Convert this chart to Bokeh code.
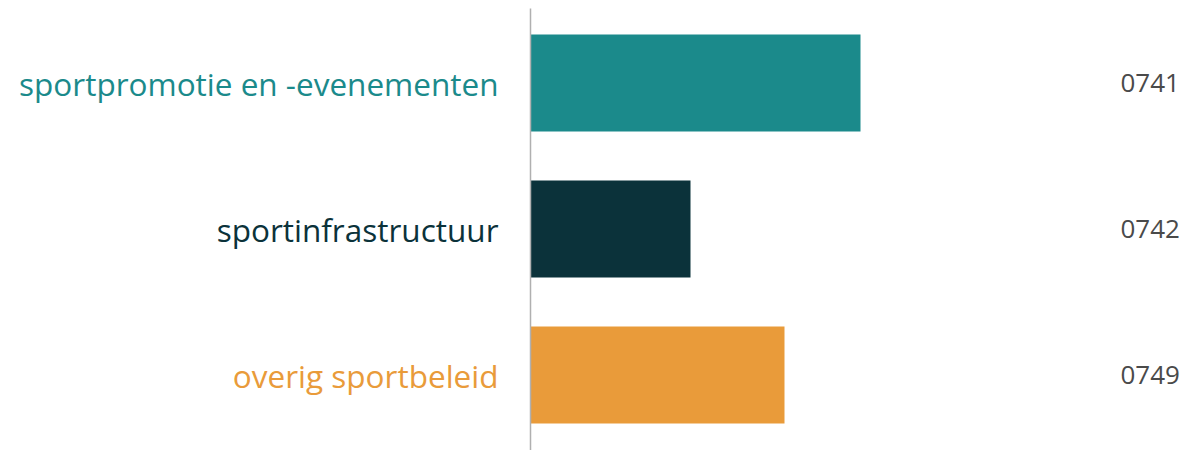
from bokeh.plotting import figure
from bokeh.models import Range1d, ColumnDataSource, Span
from bokeh.core.properties import value
from bokeh.embed import file_html
from bokeh.resources import INLINE

categories = ["sportpromotie en -evenementen", "sportinfrastructuur", "overig sportbeleid"]
codes = ["0741", "0742", "0749"]
values = [33.0, 16.0, 25.4]
colors = ["#1b8a8b", "#0b323a", "#e99b3a"]

pos = list(range(len(categories)))
src = ColumnDataSource(dict(y=pos, v=values, cat=categories, code=codes, color=colors,
                            lx=[-3.2] * len(pos), rx=[59.0] * len(pos)))

W, H = 1192, 450
X0 = 53.0  # axis offset in data units (10 px per unit)
p = figure(width=W, height=H, output_backend="svg", toolbar_location=None,
           x_range=Range1d(-X0, -X0 + W / 10.0),
           y_range=Range1d(2 + (H - 374.5) / 146, -82.5 / 146),
           min_border=0, outline_line_color=None)
p.axis.visible = False
p.grid.visible = False
p.background_fill_color = "white"
p.border_fill_color = "white"

p.hbar(y="y", left=0, right="v", height=0.664, color="color", source=src, line_color=None)
p.line(x=[0, 0], y=[2 + (H - 374.5) / 146, -74.5 / 146], line_color="#b0b0b0", line_width=1.5)

p.text(x="lx", y="y", text="cat", text_color="color", text_align="right", text_baseline="middle",
       text_font=value("Open Sans"), text_font_size="31.5px", source=src)
p.text(x="rx", y="y", text="code", text_color="#4a4a4a", text_align="left", text_baseline="middle",
       text_font=value("Open Sans"), text_font_size="26px", source=src)

open("out.html", "w").write(file_html(p, INLINE))
